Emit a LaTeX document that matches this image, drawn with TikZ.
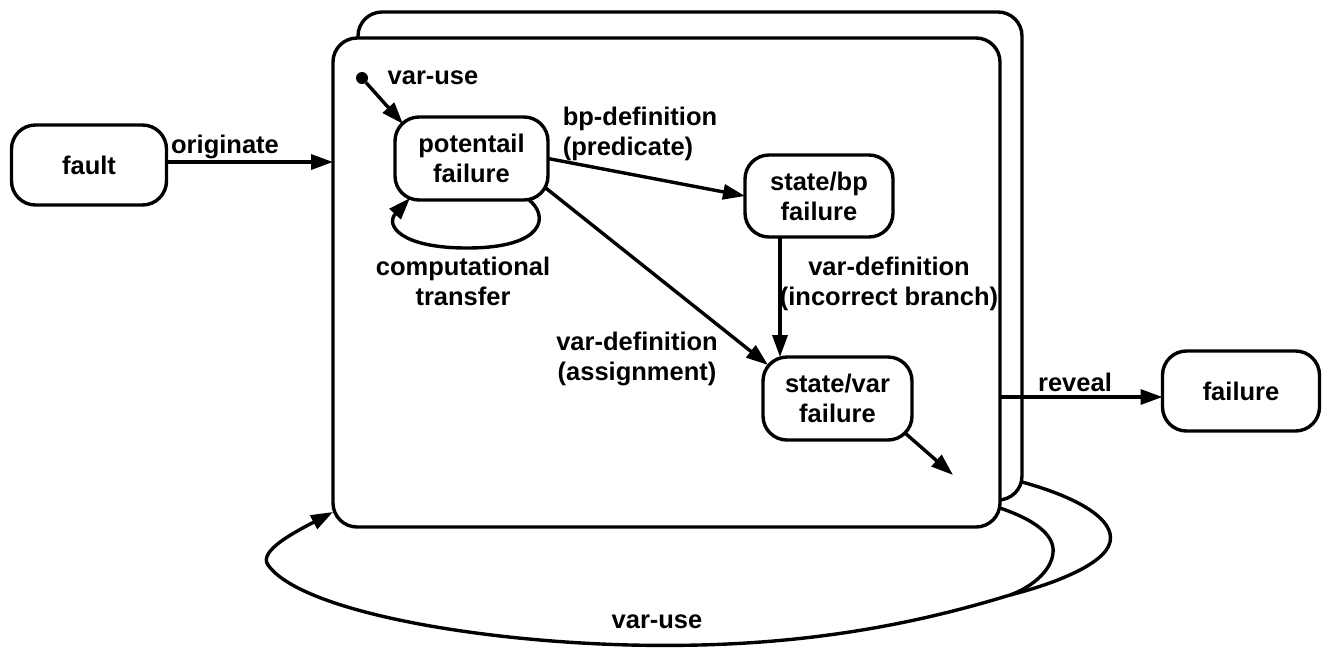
\documentclass[tikz,border=0pt]{standalone}
\usepackage{fontspec}
\setmainfont{Liberation Sans}
\usetikzlibrary{arrows.meta}
\begin{document}
\begin{tikzpicture}[x=1pt,y=-1pt,
  every node/.style={font=\fontsize{25.5}{30}\selectfont\bfseries},
  stbox/.style={draw,line width=3.4pt,rounded corners=24pt,align=center,inner sep=0pt,outer sep=0pt,fill=white},
  frame/.style={draw,line width=3.4pt,rounded corners=24pt,inner sep=0pt,outer sep=0pt,fill=white},
  conn/.style={line width=3.4pt,-{Triangle[length=22pt,width=15pt]}},
  plain/.style={line width=3.4pt},
  lbl/.style={align=center,inner sep=0pt}]
\fill[white] (0,0) rectangle (1328,649);
\useasboundingbox (0,0) rectangle (1328,649);
% frames (set of states)
\node[frame,minimum width=664pt,minimum height=488pt] (back) at (690,256) {};
\node[frame,minimum width=667pt,minimum height=489pt] (front) at (666.5,282.5) {};
% states
\node[stbox,minimum width=155pt,minimum height=80pt] (fault) at (89,165) {fault};
\node[stbox,minimum width=157pt,minimum height=80pt] (fail) at (1241,391) {failure};
\node[stbox,minimum width=153pt,minimum height=83pt] (pf) at (471.5,158.5) {potentail\\failure};
\node[stbox,minimum width=148pt,minimum height=82pt] (sb) at (819,196) {state/bp\\failure};
\node[stbox,minimum width=149pt,minimum height=83pt] (sv) at (837.5,398.5) {state/var\\failure};
\node[circle,fill,inner sep=0pt,minimum size=12pt] (init) at (362,78) {};
% labels
\node[lbl] at (433,78) {var-use};
\node[lbl] at (225,147) {originate};
\node[lbl,align=left] at (640,134) {bp-definition\\(predicate)};
\node[lbl] at (463,281) {computational\\transfer};
\node[lbl] at (889,284) {var-definition\\(incorrect branch)};
\node[lbl] at (637,359) {var-definition\\(assignment)};
\node[lbl] at (1075,382) {reveal};
\node[lbl] at (657,622) {var-use};
% coordinates
\coordinate (sbx) at ([xshift=-39pt]sb.south);
\coordinate (svend) at (953,475);
\coordinate (rv) at ([yshift=-6pt]fail.west);
\coordinate (fo) at ([yshift=3pt]fault.east);
\coordinate (ls) at ([yshift=19pt]front.south east);
\coordinate (le) at ([yshift=15pt]front.south west);
\coordinate (lo) at ([yshift=18pt]back.south east);
% connectors
\draw[conn] (fo) -- (fo -| front.west);
\draw[conn] (init) -- ([shift={(8,7)}]pf.north west);
\draw[conn] ([shift={(-20,-1)}]pf.south east) .. controls (550,216) and (545,248) .. (467,248)
  .. controls (400,248) and (385,225) .. ([shift={(15,-2)}]pf.south west);
\draw[conn] (pf.east) -- (sb.west);
\draw[conn] ([shift={(-3.5,-13)}]pf.south east) -- ([shift={(5,8)}]sv.north west);
\draw[conn] (sbx) -- (sbx |- sv.north);
\draw[conn] ([shift={(-7,-7)}]sv.south east) -- (svend);
\draw[conn] (rv -| front.east) -- (rv);
\draw[conn] (ls) .. controls (1035,520) and (1055,535) .. (1053,553)
  .. controls (1051,572) and (1030,588) .. (1010,595)
  .. controls (880,635) and (760,648) .. (630,645)
  .. controls (470,641) and (300,610) .. (268,565)
  .. controls (258,551) and (295,532) .. (le);
\draw[plain] (lo) .. controls (1080,498) and (1115,520) .. (1110,542)
  .. controls (1105,565) and (1050,585) .. (1010,595);
\end{tikzpicture}
\end{document}
